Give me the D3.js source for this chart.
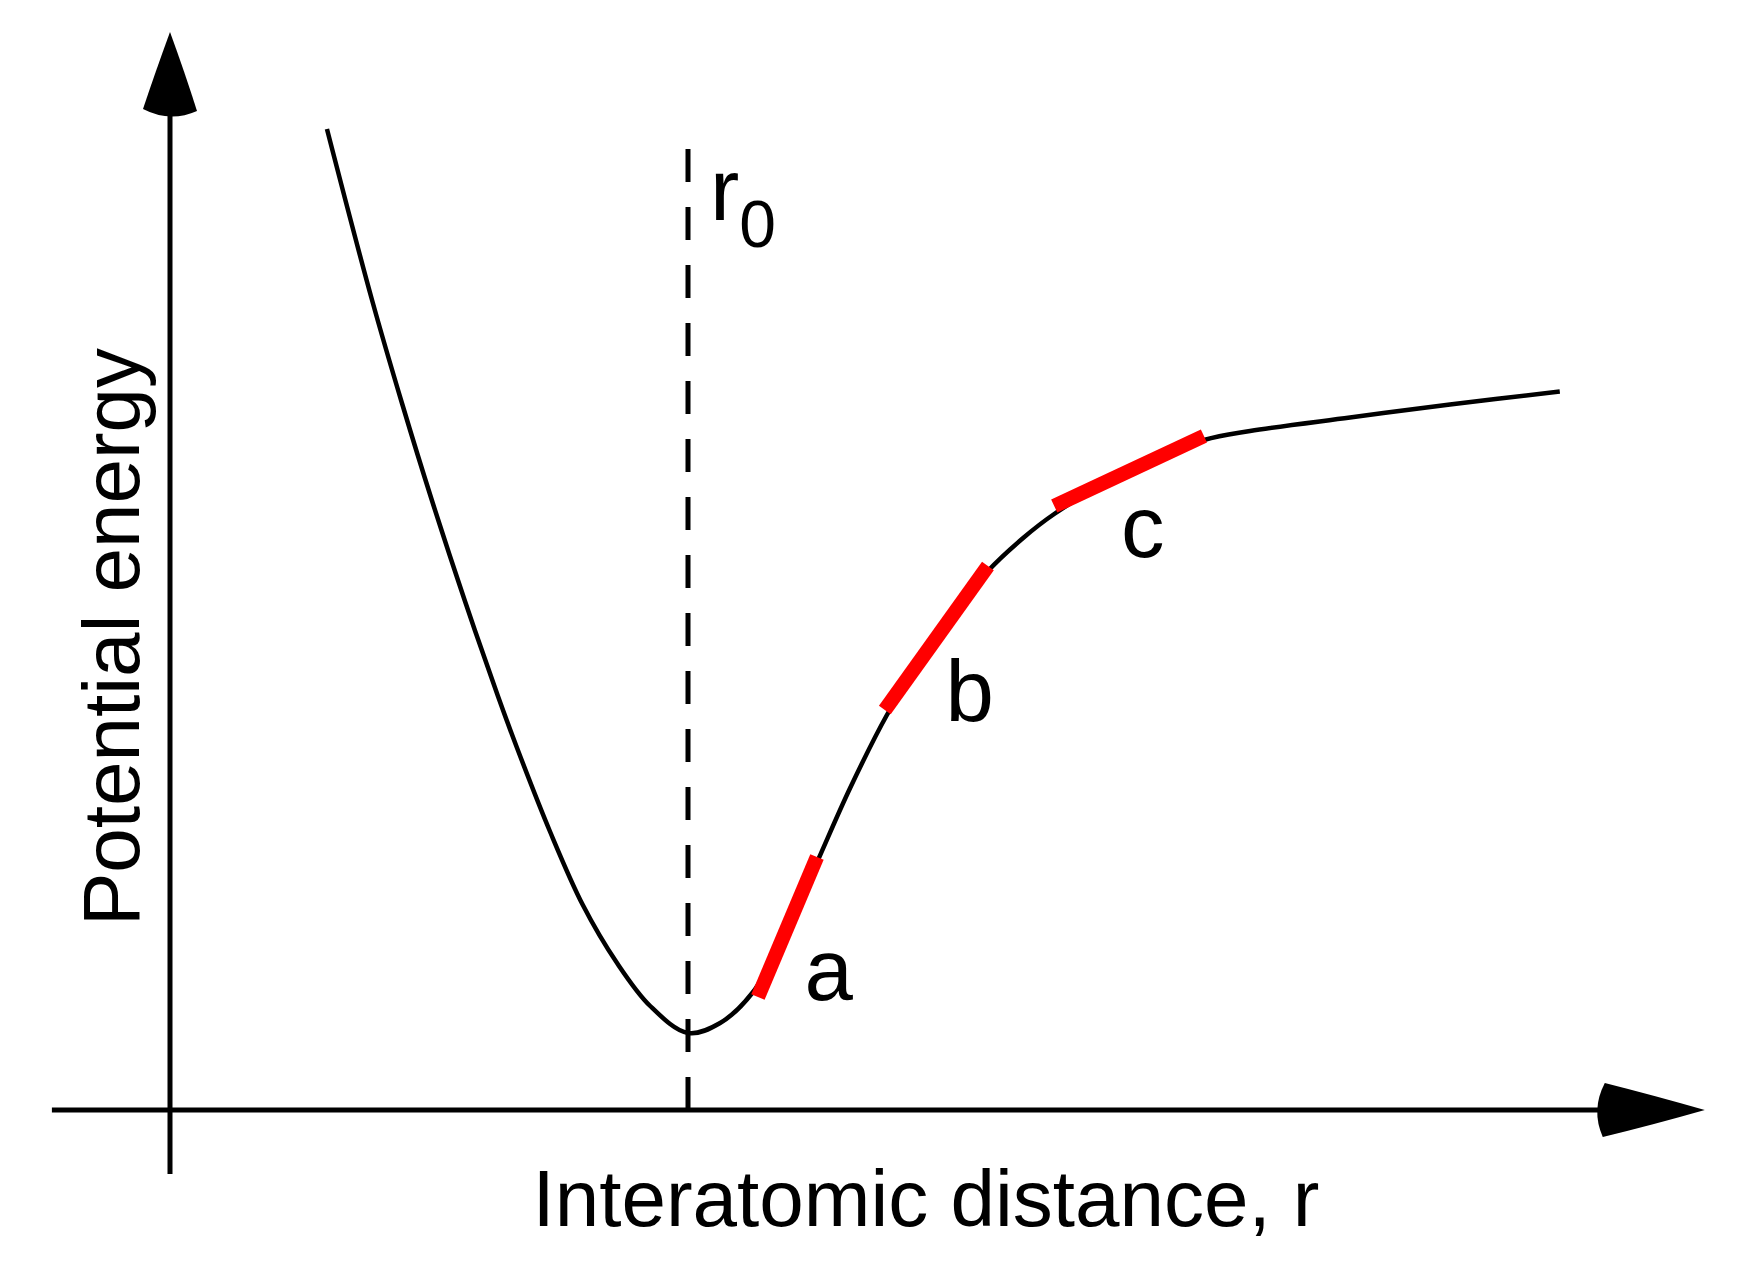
<!DOCTYPE html>
<html>
<head>
<meta charset="utf-8">
<script src="https://cdn.jsdelivr.net/npm/d3@7"></script>
<style>
  html, body { margin: 0; padding: 0; background: #fff; }
  svg { display: block; font-family: "Liberation Sans", Arial, sans-serif; }
</style>
</head>
<body>
<svg></svg>
<script>
// Courbe d'énergie potentielle (r en unités de r0, énergie en unités arbitraires)
const curveR = [0.303, 0.390, 0.448, 0.506, 0.570, 0.633, 0.670, 0.734, 0.797, 0.863, 0.927, 1.0,
                1.062, 1.124, 1.187, 1.251, 1.313, 1.384, 1.477, 1.579, 1.647, 1.707,
                1.853, 1.996, 2.085, 2.278, 2.471, 2.683];
const curveE = [0.981, 0.810, 0.7065, 0.609, 0.508, 0.414, 0.362, 0.278, 0.205, 0.147, 0.104, 0.077,
                0.087, 0.117, 0.175, 0.250, 0.322, 0.395, 0.473, 0.539, 0.572, 0.596,
                0.641, 0.670, 0.679, 0.6925, 0.7055, 0.7185];

// Segments rouges a, b, c
const segLabels = ["a", "b", "c"];
const segStartR = [1.135, 1.380, 1.707];
const segStartE = [0.113, 0.400, 0.604];
const segEndR = [1.249, 1.579, 1.996];
const segEndE = [0.253, 0.544, 0.674];

const r0 = 1.0;
const xLabel = "Interatomic distance, r";
const yLabel = "Potential energy";

const width = 1740;
const height = 1264;
const svg = d3.select("svg").attr("width", width).attr("height", height);

const x = d3.scaleLinear().domain([0, 1]).range([170, 688]);
const y = d3.scaleLinear().domain([0, 1]).range([1110, 110]);

// Axes avec flèches
const xAxisStart = -0.228, xAxisEnd = 2.766;
const yAxisStart = -0.064, yAxisEnd = 0.994;

svg.append("line")
    .attr("x1", x(xAxisStart)).attr("y1", y(0))
    .attr("x2", x(xAxisEnd)).attr("y2", y(0))
    .attr("stroke", "#000").attr("stroke-width", 5);

svg.append("line")
    .attr("x1", x(0)).attr("y1", y(yAxisStart))
    .attr("x2", x(0)).attr("y2", y(yAxisEnd))
    .attr("stroke", "#000").attr("stroke-width", 5);

// pointe de flèche (dirigée vers +x), base légèrement bombée
function arrowPath(len) {
    return `M${len},0 Q${len * 0.5},-15 5,-27 Q-9,0 3,27 Q${len * 0.5},15 ${len},0 Z`;
}

svg.append("path")
    .attr("d", arrowPath(105))
    .attr("transform", `translate(${x(xAxisEnd) - 3},${y(0)})`)
    .attr("fill", "#000");

svg.append("path")
    .attr("d", arrowPath(82))
    .attr("transform", `translate(${x(0)},${y(yAxisEnd) - 2}) rotate(-90)`)
    .attr("fill", "#000");

// Ligne pointillée à r0
svg.append("line")
    .attr("x1", x(r0)).attr("y1", y(0))
    .attr("x2", x(r0)).attr("y2", y(0.961))
    .attr("stroke", "#000")
    .attr("stroke-width", 5)
    .attr("stroke-dasharray", "33,25");

// Courbe
const pts = curveR.map((r, i) => [r, curveE[i]]);
const line = d3.line()
    .x(d => x(d[0]))
    .y(d => y(d[1]))
    .curve(d3.curveCatmullRom.alpha(0.5));

svg.append("path")
    .datum(pts)
    .attr("d", line)
    .attr("fill", "none")
    .attr("stroke", "#000")
    .attr("stroke-width", 4.5);

// Segments rouges
const segs = segLabels.map((k, i) => ({
    label: k,
    r1: segStartR[i], e1: segStartE[i],
    r2: segEndR[i], e2: segEndE[i]
}));

svg.selectAll(".seg")
    .data(segs)
    .enter()
    .append("line")
    .attr("class", "seg")
    .attr("x1", d => x(d.r1)).attr("y1", d => y(d.e1))
    .attr("x2", d => x(d.r2)).attr("y2", d => y(d.e2))
    .attr("stroke", "#ff0000")
    .attr("stroke-width", 14.5);

// Étiquettes a, b, c (décalées depuis le milieu du segment)
const labelOffsets = [[17, 73], [9, 83], [-8, 86]];
svg.selectAll(".seg-label")
    .data(segs)
    .enter()
    .append("text")
    .attr("class", "seg-label")
    .attr("x", (d, i) => (x(d.r1) + x(d.r2)) / 2 + labelOffsets[i][0])
    .attr("y", (d, i) => (y(d.e1) + y(d.e2)) / 2 + labelOffsets[i][1])
    .attr("font-size", 87)
    .attr("fill", "#000")
    .text(d => d.label);

// r0
const r0Label = svg.append("text")
    .attr("x", x(r0) + 22)
    .attr("y", 220)
    .attr("font-size", 88)
    .attr("fill", "#000");
r0Label.append("tspan").text("r");
r0Label.append("tspan")
    .attr("font-size", 66)
    .attr("dy", 27)
    .attr("dx", 0)
    .text("0");

// Titres des axes
svg.append("text")
    .attr("x", 926)
    .attr("y", 1226)
    .attr("text-anchor", "middle")
    .attr("font-size", 80)
    .attr("fill", "#000")
    .text(xLabel);

svg.append("text")
    .attr("transform", "translate(139,637) rotate(-90)")
    .attr("text-anchor", "middle")
    .attr("font-size", 80)
    .attr("fill", "#000")
    .text(yLabel);
</script>
</body>
</html>
